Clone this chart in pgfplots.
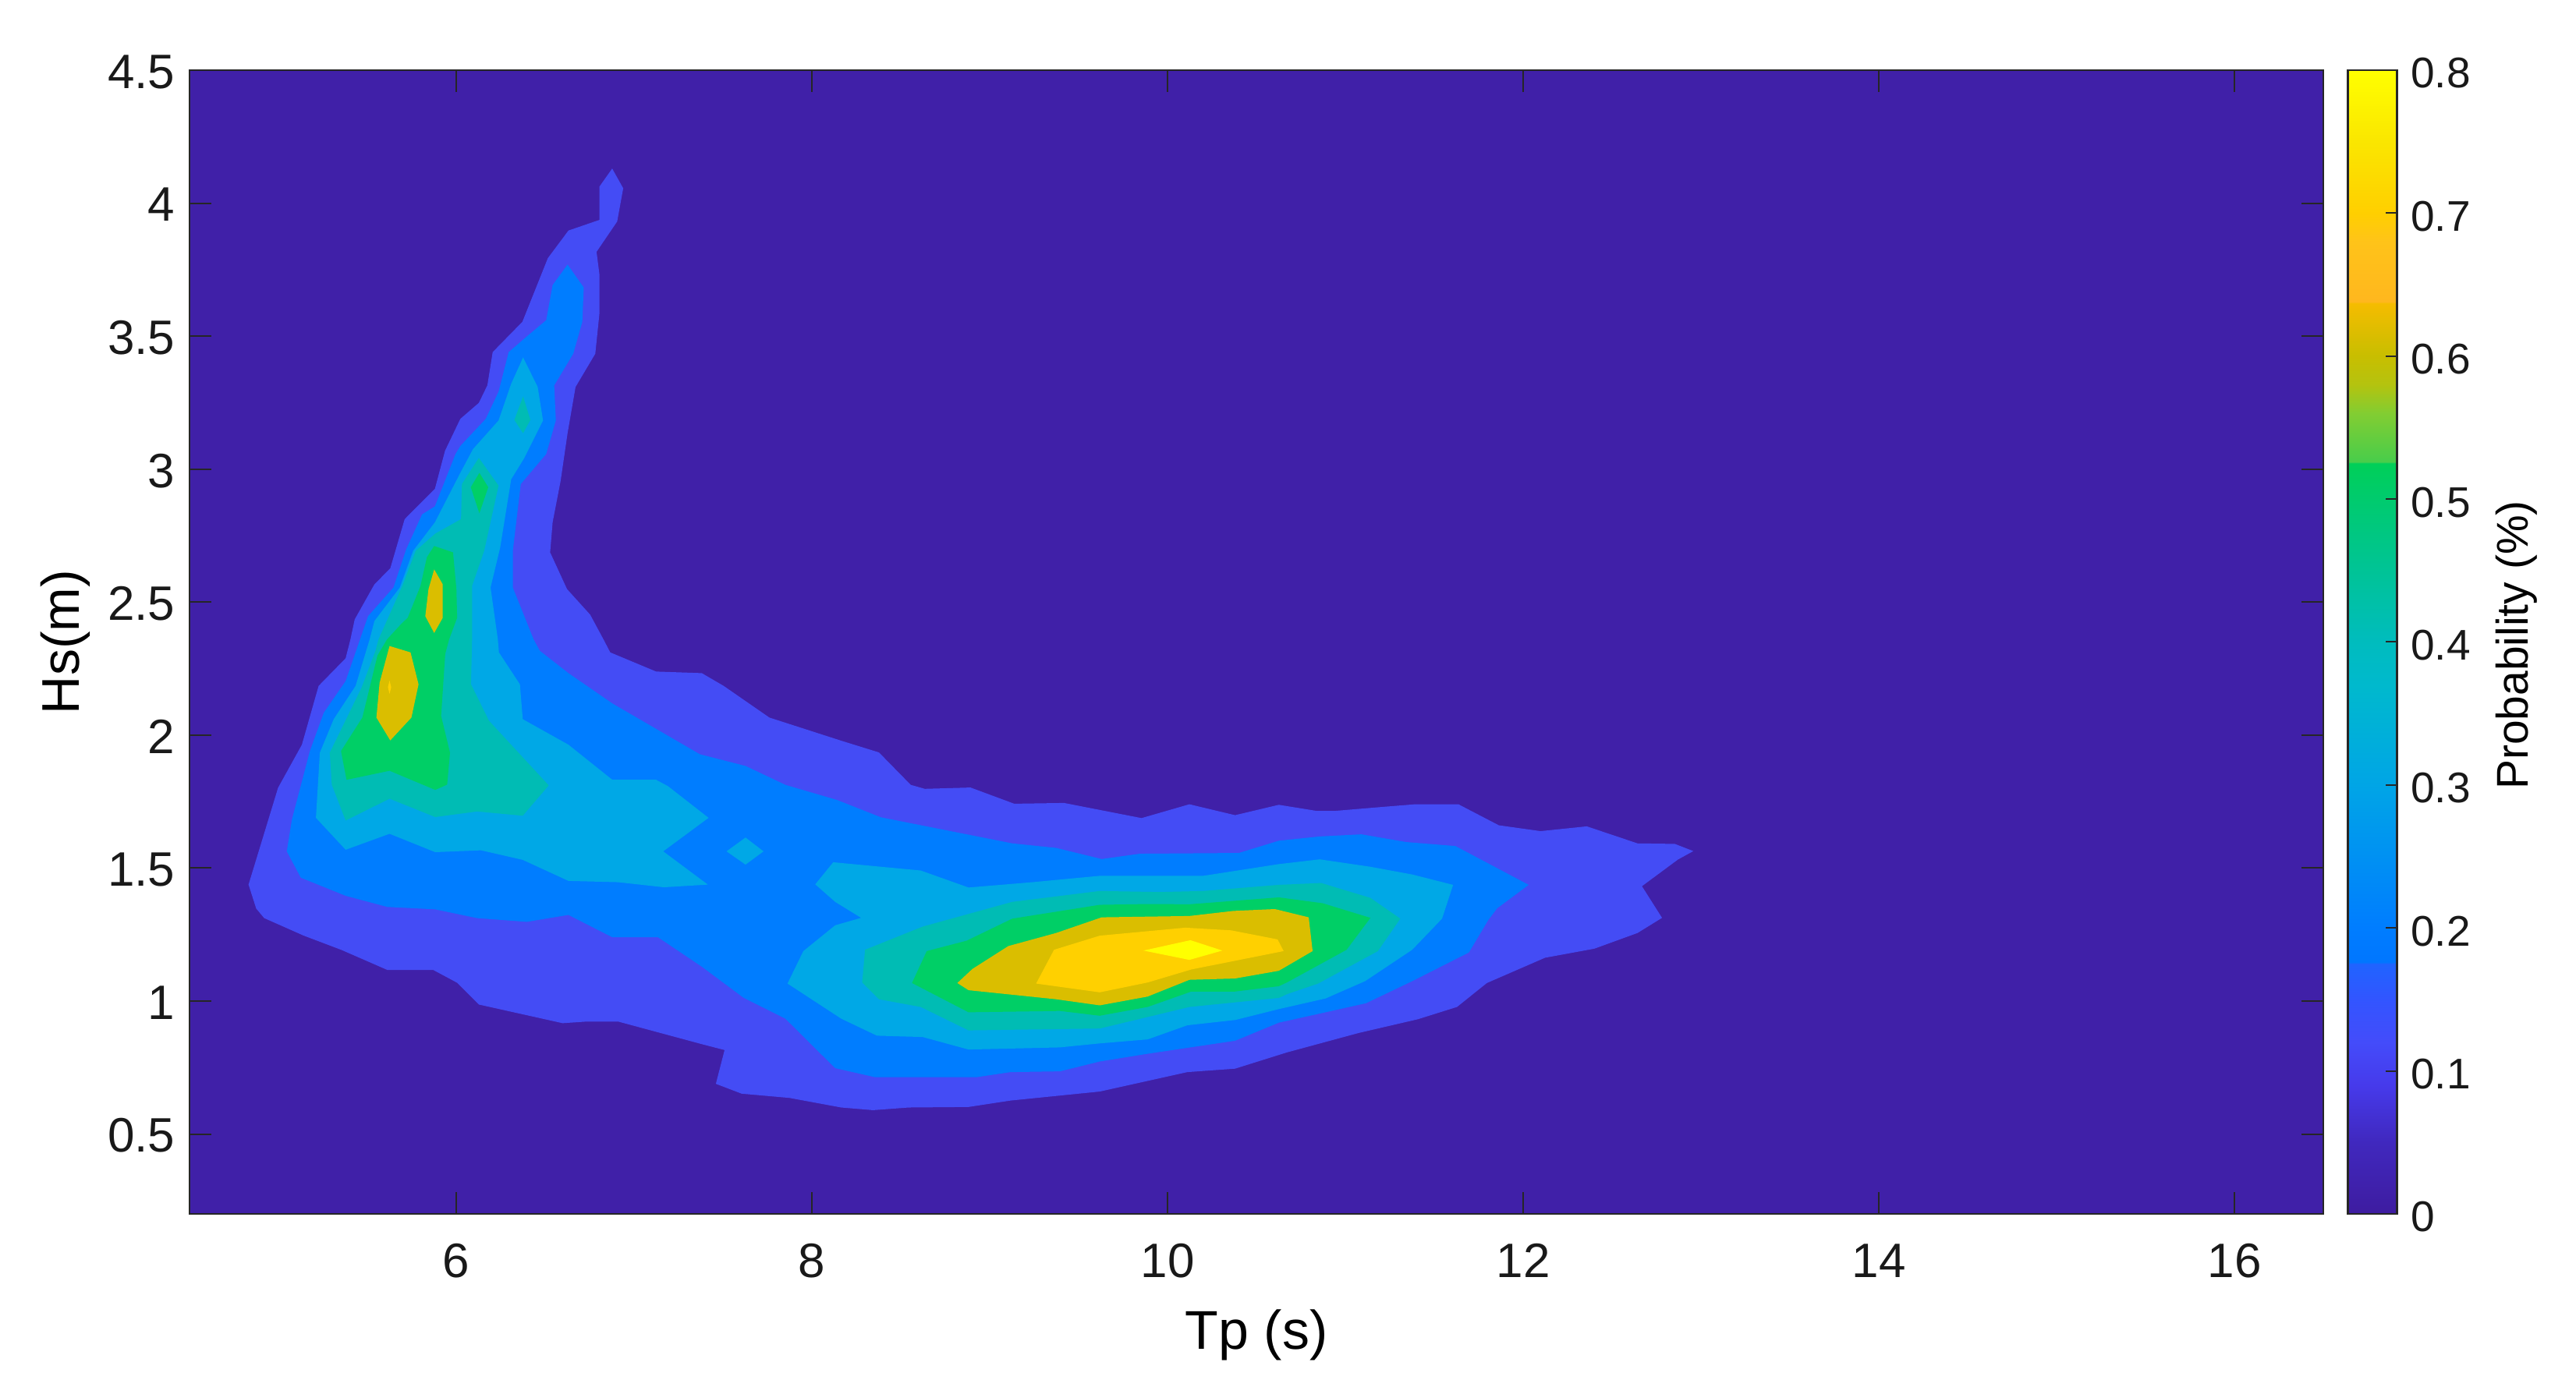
\documentclass[border=0pt]{standalone}
\usepackage{fontspec}
\setmainfont{Liberation Sans}
\usepackage{pgfplots}
\pgfplotsset{compat=1.18}
\definecolor{lzero}{RGB}{64,32,168}
\definecolor{lone}{RGB}{68,76,245}
\definecolor{ltwo}{RGB}{0,125,255}
\definecolor{lthree}{RGB}{0,168,230}
\definecolor{lfour}{RGB}{0,188,180}
\definecolor{lfive}{RGB}{0,207,102}
\definecolor{lsix}{RGB}{218,190,0}
\definecolor{lseven}{RGB}{255,208,0}
\definecolor{leight}{RGB}{255,255,0}
\definecolor{axgray}{RGB}{38,38,38}
\pgfplotsset{colormap={prob}{
rgb255(0pt)=(62,28,160)
rgb255(50pt)=(64,40,190)
rgb255(90pt)=(70,58,235)
rgb255(120pt)=(68,76,250)
rgb255(150pt)=(50,85,255)
rgb255(175pt)=(32,100,255)
rgb255(176pt)=(0,118,255)
rgb255(200pt)=(0,125,255)
rgb255(300pt)=(0,165,230)
rgb255(370pt)=(0,185,205)
rgb255(400pt)=(0,188,190)
rgb255(500pt)=(0,203,110)
rgb255(525pt)=(0,207,88)
rgb255(526pt)=(72,205,75)
rgb255(560pt)=(130,205,50)
rgb255(580pt)=(180,195,15)
rgb255(600pt)=(200,190,0)
rgb255(637pt)=(245,188,0)
rgb255(638pt)=(255,183,30)
rgb255(680pt)=(255,195,25)
rgb255(700pt)=(255,207,0)
rgb255(750pt)=(250,230,0)
rgb255(800pt)=(255,255,0)
}}
\begin{document}
\begin{tikzpicture}
\useasboundingbox (0,0) rectangle (660.6pt,357.6pt);
\begin{axis}[
  at={(48.6pt,46.2pt)}, anchor=south west,
  scale only axis, width=547.2pt, height=293.4pt,
  xmin=4.5, xmax=16.5, ymin=0.2, ymax=4.5,
  xtick={6,8,10,12,14,16},
  ytick={0.5,1,1.5,2,2.5,3,3.5,4,4.5},
  tick align=inside, major tick length=5.6pt,
  axis on top,
  axis line style={color=axgray, line width=0.5pt},
  tick style={color=axgray, line width=0.4pt},
  /pgf/number format/assume math mode=true,
  tick label style={font=\fontsize{12.4}{14}\selectfont, color=black!90},
  xticklabel style={yshift=-4.2pt},
  yticklabel style={xshift=-0.2pt, yshift=-0.4pt},
  xlabel={Tp (s)}, ylabel={Hs(m)},
  xlabel style={font=\fontsize{14}{16}\selectfont, at={(axis description cs:0.5,0)}, anchor=center, yshift=-31pt},
  ylabel style={font=\fontsize{13.6}{16}\selectfont, at={(axis description cs:0,0.5)}, anchor=center, xshift=0pt, yshift=31.8pt},
  no markers,
  colormap name=prob,
  point meta min=0, point meta max=0.8,
  colorbar, colorbar right,
  colorbar style={
    at={(parent axis.north east)}, anchor=north west, xshift=-2.2pt,
    scale only axis, width=12.6pt, height=293.4pt,
    ymin=0, ymax=0.8,
    ytick={0,0.1,0.2,0.3,0.4,0.5,0.6,0.7,0.8},
    ytick align=inside, major tick length=3pt,
    ytick pos=right, yticklabel pos=right,
    axis line style={color=axgray, line width=0.5pt},
    tick style={color=axgray, line width=0.4pt},
    /pgf/number format/assume math mode=true,
    /pgf/number format/fixed,
    yticklabel style={font=\fontsize{11}{13}\selectfont, xshift=0pt, yshift=-0.8pt},
    ylabel={Probability (\%)},
    ylabel style={font=\fontsize{11.4}{13}\selectfont, at={(axis description cs:1,0.5)}, anchor=center, yshift=-30.6pt, xshift=-0.8pt, rotate=0},
  },
]
% background level
\addplot[fill=lzero, draw=none] coordinates {(4.5,0.2)(16.5,0.2)(16.5,4.5)(4.5,4.5)} --cycle;
% level 1
\addplot[fill=lone, draw=none] coordinates {
(6.877,4.130)(6.939,4.056)(6.905,3.931)(6.789,3.817)(6.805,3.733)(6.805,3.584)(6.782,3.434)(6.671,3.309)
(6.626,3.135)(6.587,2.956)(6.542,2.800)(6.528,2.687)(6.623,2.549)(6.753,2.453)(6.828,2.360)
(6.866,2.311)(7.124,2.239)(7.381,2.233)(7.504,2.185)(7.761,2.066)(8.165,1.979)(8.377,1.935)(8.556,1.813)
(8.635,1.798)(8.892,1.803)(9.138,1.742)(9.418,1.745)(9.854,1.688)(10.123,1.740)(10.380,1.699)(10.626,1.738)
(10.839,1.715)(10.940,1.715)(11.208,1.730)(11.393,1.740)(11.636,1.740)(11.863,1.661)(12.098,1.639)(12.358,1.657)
(12.643,1.593)(12.853,1.591)(12.957,1.564)(12.870,1.532)(12.668,1.432)(12.781,1.313)(12.643,1.256)(12.400,1.197)
(12.123,1.163)(11.796,1.068)(11.628,0.978)(11.409,0.932)(11.074,0.880)(10.671,0.807)(10.380,0.746)(10.111,0.733)
(9.619,0.660)(9.116,0.626)(8.881,0.602)(8.545,0.600)(8.344,0.590)(8.165,0.600)(7.874,0.636)(7.605,0.652)
(7.460,0.689)(7.509,0.816)(7.382,0.838)(6.911,0.923)(6.732,0.923)(6.598,0.917)(6.128,0.987)(6.005,1.069)
(5.871,1.117)(5.613,1.117)(5.356,1.192)(5.143,1.246)(4.920,1.312)(4.875,1.348)(4.832,1.438)(4.998,1.802)
(5.132,1.964)(5.226,2.185)(5.378,2.289)(5.405,2.360)(5.429,2.435)(5.540,2.567)(5.629,2.627)(5.710,2.812)
(5.880,2.926)(5.937,3.069)(6.023,3.189)(6.127,3.249)(6.175,3.315)(6.205,3.440)(6.372,3.554)(6.515,3.793)
(6.631,3.897)(6.805,3.937)(6.805,4.062)
} --cycle;
% level 2
\addplot[fill=ltwo, draw=none] coordinates {
(6.626,3.769)(6.717,3.683)(6.709,3.554)(6.658,3.434)(6.551,3.315)(6.560,3.183)(6.506,3.057)(6.363,2.944)
(6.318,2.692)(6.318,2.555)(6.435,2.360)(6.470,2.317)(6.631,2.233)(6.878,2.119)(7.370,1.928)(7.627,1.884)
(7.851,1.813)(8.142,1.756)(8.388,1.691)(9.127,1.593)(9.373,1.576)(9.630,1.534)(9.843,1.554)(10.402,1.557)
(10.626,1.603)(10.856,1.619)(11.091,1.627)(11.342,1.598)(11.619,1.583)(12.031,1.437)(11.854,1.349)(11.804,1.305)
(11.695,1.183)(11.376,1.075)(11.116,0.992)(10.889,0.958)(10.626,0.919)(10.380,0.851)(9.888,0.802)(9.619,0.773)
(9.395,0.736)(9.116,0.733)(8.926,0.714)(8.355,0.714)(8.131,0.748)(7.851,0.934)(7.617,1.012)(7.382,1.129)
(7.135,1.240)(6.878,1.240)(6.631,1.324)(6.397,1.298)(6.117,1.312)(5.882,1.345)(5.613,1.354)(5.378,1.396)
(5.126,1.464)(5.047,1.563)(5.076,1.683)(5.177,1.940)(5.255,2.084)(5.378,2.203)(5.459,2.360)(5.504,2.447)
(5.647,2.555)(5.719,2.699)(5.808,2.830)(5.880,2.860)(5.996,3.057)(6.023,3.087)(6.166,3.189)(6.238,3.291)
(6.295,3.440)(6.399,3.500)(6.506,3.560)(6.542,3.692)
} --cycle;
% level 3
\addplot[fill=lthree, draw=none] coordinates {
(6.376,3.420)(6.458,3.309)(6.488,3.183)(6.381,3.040)(6.309,2.962)(6.247,2.705)(6.193,2.555)(6.234,2.360)
(6.240,2.311)(6.358,2.191)(6.374,2.060)(6.631,1.964)(6.878,1.832)(7.124,1.832)(7.191,1.808)(7.419,1.689)
(7.164,1.563)(7.415,1.438)(7.168,1.428)(6.911,1.447)(6.631,1.452)(6.374,1.531)(6.139,1.567)(5.882,1.560)
(5.625,1.629)(5.378,1.569)(5.211,1.689)(5.233,1.934)(5.311,2.060)(5.434,2.185)(5.513,2.360)(5.540,2.429)
(5.683,2.555)(5.758,2.693)(5.880,2.800)(6.023,2.986)(6.094,3.075)(6.238,3.183)(6.309,3.321)
} --cycle;
\addplot[fill=lthree, draw=none] coordinates {(7.627,1.615)(7.728,1.563)(7.627,1.513)(7.520,1.563)} --cycle;
\addplot[fill=lthree, draw=none] coordinates {
(8.120,1.522)(8.612,1.491)(8.881,1.427)(9.239,1.447)(9.619,1.471)(9.955,1.471)(10.201,1.471)(10.626,1.515)
(10.856,1.533)(11.141,1.505)(11.376,1.476)(11.606,1.437)(11.544,1.310)(11.376,1.193)(11.111,1.075)(10.889,1.010)
(10.626,0.970)(10.380,0.929)(10.111,0.909)(9.888,0.856)(9.619,0.841)(9.395,0.826)(8.881,0.818)(8.623,0.865)
(8.366,0.870)(8.165,0.934)(7.863,1.066)(7.952,1.188)(8.131,1.285)(8.277,1.313)(8.131,1.373)(8.019,1.439)
} --cycle;
% level 4
\addplot[fill=lfour, draw=none] coordinates {(6.376,3.273)(6.417,3.185)(6.376,3.135)(6.327,3.185)} --cycle;
\addplot[fill=lfour, draw=none] coordinates {
(6.127,3.042)(6.238,2.938)(6.157,2.693)(6.089,2.561)(6.089,2.360)(6.083,2.191)(6.184,2.054)(6.520,1.811)
(6.374,1.697)(6.117,1.713)(5.882,1.692)(5.625,1.761)(5.378,1.679)(5.300,1.814)(5.289,1.934)(5.468,2.179)
(5.546,2.317)(5.563,2.360)(5.697,2.561)(5.772,2.693)(5.883,2.758)(6.027,2.812)(6.032,2.944)
} --cycle;
\addplot[fill=lfour, draw=none] coordinates {
(8.299,1.193)(8.623,1.280)(9.127,1.373)(9.619,1.414)(9.955,1.410)(10.201,1.414)(10.626,1.437)(10.864,1.444)
(11.141,1.388)(11.309,1.310)(11.183,1.188)(10.847,1.066)(10.671,1.026)(10.626,1.012)(10.123,0.978)(9.619,0.897)
(8.881,0.890)(8.612,0.978)(8.377,1.007)(8.283,1.070)
} --cycle;
% level 5
\addplot[fill=lfive, draw=none] coordinates {(6.130,2.986)(6.180,2.932)(6.130,2.834)(6.082,2.932)} --cycle;
\addplot[fill=lfive, draw=none] coordinates {
(5.876,2.711)(5.982,2.687)(6.001,2.549)(6.005,2.441)(5.960,2.360)(5.938,2.305)(5.915,2.072)(5.965,1.934)
(5.949,1.814)(5.882,1.794)(5.625,1.866)(5.383,1.832)(5.352,1.940)(5.472,2.066)(5.557,2.299)(5.611,2.360)
(5.692,2.419)(5.727,2.441)(5.799,2.561)(5.835,2.669)
} --cycle;
\addplot[fill=lfive, draw=none] coordinates {
(8.646,1.188)(8.870,1.227)(9.127,1.310)(9.619,1.362)(9.888,1.365)(10.123,1.364)(10.626,1.390)(10.872,1.368)
(11.141,1.313)(11.007,1.193)(10.671,1.070)(10.626,1.056)(10.380,1.036)(10.134,1.036)(9.888,0.978)(9.619,0.945)
(9.395,0.963)(8.881,0.958)(8.563,1.068)
} --cycle;
% level 6
\addplot[fill=lsix, draw=none] coordinates {
(5.625,2.335)(5.743,2.311)(5.788,2.191)(5.748,2.066)(5.629,1.980)(5.551,2.066)(5.569,2.197)
} --cycle;
\addplot[fill=lsix, draw=none] coordinates {
(5.876,2.623)(5.924,2.567)(5.924,2.441)(5.876,2.384)(5.826,2.447)(5.844,2.549)
} --cycle;
\addplot[fill=lsix, draw=none] coordinates {
(8.818,1.068)(8.903,1.121)(9.105,1.207)(9.373,1.256)(9.630,1.315)(10.123,1.320)(10.369,1.339)(10.604,1.346)
(10.794,1.315)(10.816,1.188)(10.626,1.114)(10.380,1.085)(10.123,1.080)(9.888,1.017)(9.619,0.984)(9.373,1.007)
(8.881,1.041)
} --cycle;
% level 7
\addplot[fill=lseven, draw=none] coordinates {(5.616,2.180)(5.625,2.205)(5.634,2.180)(5.625,2.155)} --cycle;
\addplot[fill=lseven, draw=none] coordinates {
(9.362,1.193)(9.619,1.246)(10.100,1.276)(10.358,1.266)(10.619,1.232)(10.653,1.188)(10.134,1.119)(9.888,1.070)
(9.619,1.033)(9.261,1.066)
} --cycle;
% level 8
\addplot[fill=leight, draw=none] coordinates {(9.865,1.190)(10.129,1.229)(10.308,1.190)(10.123,1.155)} --cycle;
\end{axis}
\end{tikzpicture}
\end{document}
